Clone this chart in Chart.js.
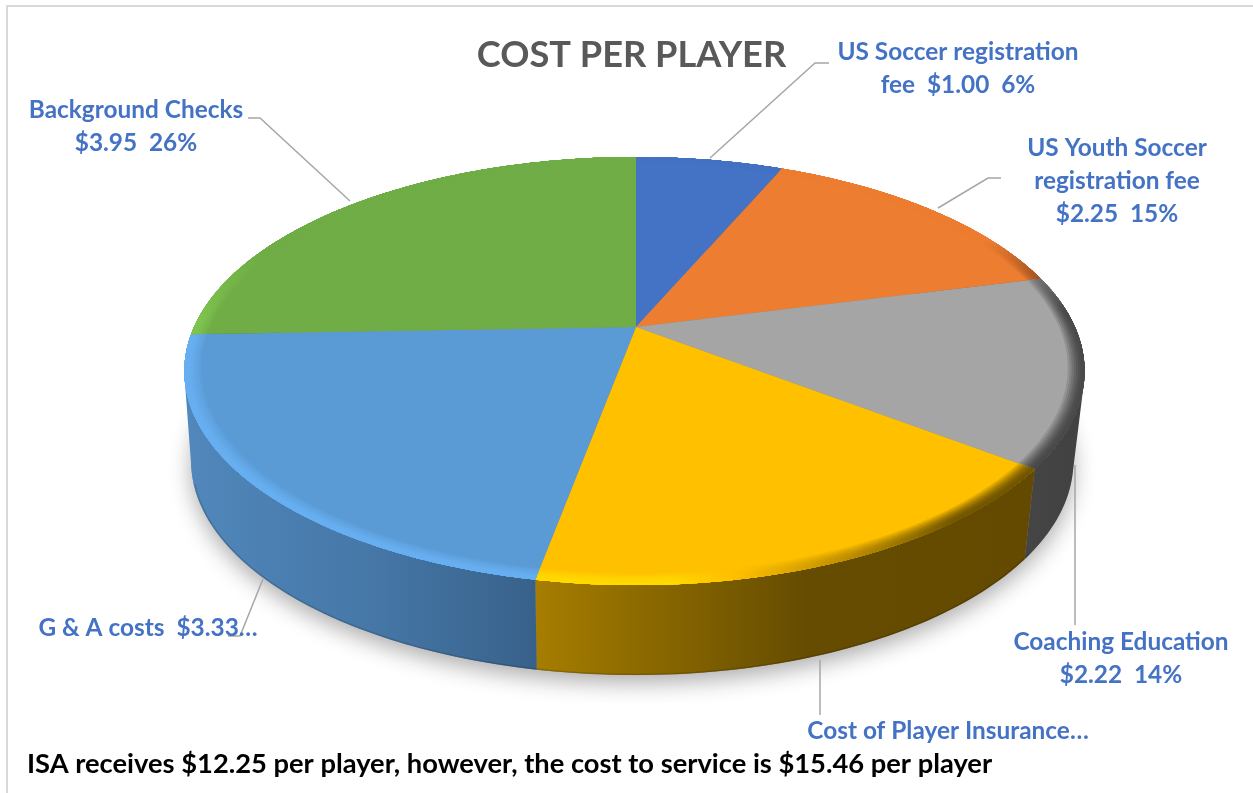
<!DOCTYPE html>
<html>
<head>
<meta charset="utf-8">
<title>Cost per player</title>
<script src="https://cdn.jsdelivr.net/npm/chart.js@4/dist/chart.umd.min.js"></script>
<style>
  html, body { margin: 0; padding: 0; background: #fff; }
  canvas { display: block; }
</style>
</head>
<body>
<canvas id="chart" width="1253" height="793"></canvas>
<script>
'use strict';

const categories = ['US Soccer registration fee', 'US Youth Soccer registration fee', 'Coaching Education', 'Cost of Player Insurance', 'G & A costs', 'Background Checks'];
const costs = [1.00, 2.25, 2.22, 2.71, 3.33, 3.95];
const sliceColors = ['#4472c4', '#ed7d31', '#a5a5a5', '#ffc000', '#5b9bd5', '#70ad47'];
const wallFrom = ['#2f5597', '#a5541f', '#454545', '#a67d00', '#5187bb', '#4b7a30'];
const wallMid = ['#2f5597', '#a5541f', '#434343', '#654c00', '#4576a6', '#4b7a30'];
const wallTo = ['#2f5597', '#a5541f', '#424242', '#634a00', '#38618a', '#4b7a30'];

const labelTexts = [
    ['US Soccer registration', 'fee  $1.00  6%'],
    ['US Youth Soccer', 'registration fee', '$2.25  15%'],
    ['Coaching Education', '$2.22  14%'],
    ['Cost of Player Insurance…'],
    ['G & A costs  $3.33…'],
    ['Background Checks', '$3.95  26%']
];
const labelCenters = [[958, 52], [1117, 148], [1121, 642], [948, 731], [148, 628], [136, 110]];
const leaders = [
    [[710, 158], [815, 63], [829, 63]],
    [[938, 208], [988, 178], [1001, 178]],
    [[1075, 465], [1075, 625]],
    [[820, 660], [820, 715]],
    [[263, 579], [240, 636], [228, 636]],
    [[350, 201], [260, 118], [248, 118]]
];
const footerText = 'ISA receives $12.25 per player, however, the cost to service is $15.46 per player';

// perspective of the disc, fitted on the picture (right side is a bit narrower)
const cx = 636, cy = 327, radiusLeft = 442, radiusRight = 439, radiusY = 205, tilt = -0.2056;
const wallDrop = 90, lowerLeft = 0.985, lowerRight = 0.975;
const rimWidth = 0.036;

function project(theta, r, lower) {
    const u = r * Math.sin(theta);
    const v = -r * Math.cos(theta);
    const d = 1 + tilt * v;
    const rx = u > 0 ? radiusRight * (lower ? lowerRight : 1) : radiusLeft * (lower ? lowerLeft : 1);
    return {
        x: cx + rx * u / d,
        y: cy + (lower ? wallDrop : 0) + radiusY * v / d
    };
}

function traceArc(ctx, a0, a1, r, lower, first) {
    const steps = Math.max(2, Math.ceil(Math.abs(a1 - a0) / 0.01));
    for (let i = 0; i <= steps; i++) {
        const p = project(a0 + (a1 - a0) * i / steps, r, lower);
        if (i === 0 && first) ctx.moveTo(p.x, p.y);
        else ctx.lineTo(p.x, p.y);
    }
}

// side of the pie as a sweep of small quads, so the silhouette stays convex
function traceWall(ctx, a0, a1) {
    const steps = Math.ceil((a1 - a0) / 0.02);
    for (let s = 0; s < steps; s++) {
        const t0 = a0 + (a1 - a0) * s / steps;
        const t1 = a0 + (a1 - a0) * (s + 1) / steps;
        const a = project(t0, 1, false), b = project(t1, 1, false);
        const c = project(t1, 1, true), d = project(t0, 1, true);
        // same winding for all of them
        const cross = (b.x - a.x) * (c.y - a.y) - (b.y - a.y) * (c.x - a.x);
        const pts = cross >= 0 ? [a, b, c, d] : [d, c, b, a];
        ctx.moveTo(pts[0].x, pts[0].y);
        for (let i = 1; i < 4; i++) ctx.lineTo(pts[i].x, pts[i].y);
        ctx.closePath();
    }
}

// how much the rim is lit, by angle clockwise from the top
function rimLight(deg) {
    const ramp = (d, d0, d1, f0, f1) => f0 + (f1 - f0) * (d - d0) / (d1 - d0);
    if (deg < 62 || deg > 292) return 1;
    if (deg < 85) return ramp(deg, 62, 85, 1, 0.45);
    if (deg < 142) return 0.45;
    if (deg < 176) return ramp(deg, 142, 176, 0.45, 1.13);
    if (deg < 272) return 1.13;
    return ramp(deg, 272, 292, 1.13, 1);
}

function shade(hex, f) {
    const n = parseInt(hex.slice(1), 16);
    const ch = [n >> 16, (n >> 8) & 255, n & 255].map(c => Math.min(255, Math.round(c * f)));
    return 'rgb(' + ch.join(',') + ')';
}

const pie3d = {
    id: 'pie3d',
    beforeDatasetsDraw(chart) {
        const ctx = chart.ctx;
        const arcs = chart.getDatasetMeta(0).data;
        const toTheta = a => a + Math.PI / 2;

        // soft shadow under the pie
        ctx.save();
        ctx.shadowColor = 'rgba(0,0,0,0.32)';
        ctx.shadowBlur = 22;
        ctx.shadowOffsetY = 8;
        ctx.fillStyle = '#888';
        ctx.beginPath();
        traceArc(ctx, 0, Math.PI * 2, 1, true, true);
        ctx.closePath();
        ctx.fill();
        ctx.restore();

        // walls
        arcs.forEach((arc, i) => {
            const a0 = toTheta(arc.startAngle), a1 = toTheta(arc.endAngle);
            let minX = Infinity, maxX = -Infinity;
            for (let t = a0; t <= a1; t += 0.02) {
                const p = project(t, 1, true);
                minX = Math.min(minX, p.x);
                maxX = Math.max(maxX, p.x);
            }
            // lit from the left on the front of the pie
            const grad = ctx.createLinearGradient(minX, 0, maxX, 0);
            grad.addColorStop(0, wallFrom[i]);
            grad.addColorStop(0.55, wallMid[i]);
            grad.addColorStop(1, wallTo[i]);
            ctx.fillStyle = grad;
            ctx.beginPath();
            traceWall(ctx, a0, a1);
            ctx.fill('nonzero');
            // dark thin line at the foot of the wall
            const f0 = Math.max(a0, 2.2), f1 = Math.min(a1, 4.4);
            if (f1 > f0) {
                ctx.strokeStyle = 'rgba(0,0,0,0.14)';
                ctx.lineWidth = 1.5;
                ctx.beginPath();
                traceArc(ctx, f0, f1, 0.998, true, true);
                ctx.stroke();
            }
        });

        // top face
        arcs.forEach((arc, i) => {
            const a0 = toTheta(arc.startAngle), a1 = toTheta(arc.endAngle);
            ctx.fillStyle = sliceColors[i];
            ctx.beginPath();
            ctx.moveTo(cx, cy);
            traceArc(ctx, a0, a1, 1, false, false);
            ctx.closePath();
            ctx.fill();
        });

        // bevel along the rim, painted from the inside out with overlaps
        const rings = 8;
        arcs.forEach((arc, i) => {
            const a0 = toTheta(arc.startAngle), a1 = toTheta(arc.endAngle);
            const steps = Math.ceil((a1 - a0) / 0.012);
            for (let k = 0; k < rings; k++) {
                const mix = Math.sin((k + 1) / rings * Math.PI / 2);
                const r0 = 1 - rimWidth * (1 - k / rings);
                for (let s = 0; s < steps; s++) {
                    const t0 = a0 + (a1 - a0) * s / steps;
                    const t1 = Math.min(a1, t0 + (a1 - a0) / steps + 0.008);
                    const light = rimLight(t0 * 180 / Math.PI);
                    ctx.fillStyle = shade(sliceColors[i], 1 + (light - 1) * mix);
                    ctx.beginPath();
                    traceArc(ctx, t0, t1, r0, false, true);
                    traceArc(ctx, t1, t0, 1, false, false);
                    ctx.closePath();
                    ctx.fill();
                }
            }
        });
        return false;
    },
    afterDraw(chart) {
        const ctx = chart.ctx;
        ctx.save();

        // chart frame, only top and left are in the picture
        ctx.strokeStyle = '#d9d9d9';
        ctx.lineWidth = 2;
        ctx.beginPath();
        ctx.moveTo(7, 793);
        ctx.lineTo(7, 6);
        ctx.lineTo(1253, 6);
        ctx.stroke();

        // leader lines
        ctx.strokeStyle = '#a6a6a6';
        ctx.lineWidth = 1.5;
        leaders.forEach(line => {
            ctx.beginPath();
            line.forEach((p, i) => i ? ctx.lineTo(p[0], p[1]) : ctx.moveTo(p[0], p[1]));
            ctx.stroke();
        });

        // data labels
        ctx.fillStyle = '#4472c4';
        ctx.font = 'bold 24.4px Lato';
        ctx.textAlign = 'center';
        ctx.textBaseline = 'alphabetic';
        labelTexts.forEach((lines, i) => {
            lines.forEach((text, j) => {
                ctx.fillText(text, labelCenters[i][0], labelCenters[i][1] + 8 + j * 33);
            });
        });

        // note under the chart
        ctx.fillStyle = '#000';
        ctx.font = 'bold 27.3px Lato';
        ctx.textAlign = 'left';
        ctx.fillText(footerText, 27, 773);
        ctx.restore();
    }
};

new Chart(document.getElementById('chart'), {
    type: 'pie',
    data: {
        labels: categories,
        datasets: [{ data: costs, backgroundColor: sliceColors, borderWidth: 0 }]
    },
    options: {
        responsive: false,
        animation: false,
        layout: { padding: { left: 10, top: 34 } },
        plugins: {
            legend: { display: false },
            tooltip: { enabled: false },
            title: {
                display: true,
                text: 'COST PER PLAYER',
                color: '#595959',
                font: { family: 'Lato', size: 36.2, weight: 'bold' },
                padding: 0
            }
        }
    },
    plugins: [pie3d]
});
</script>
</body>
</html>
